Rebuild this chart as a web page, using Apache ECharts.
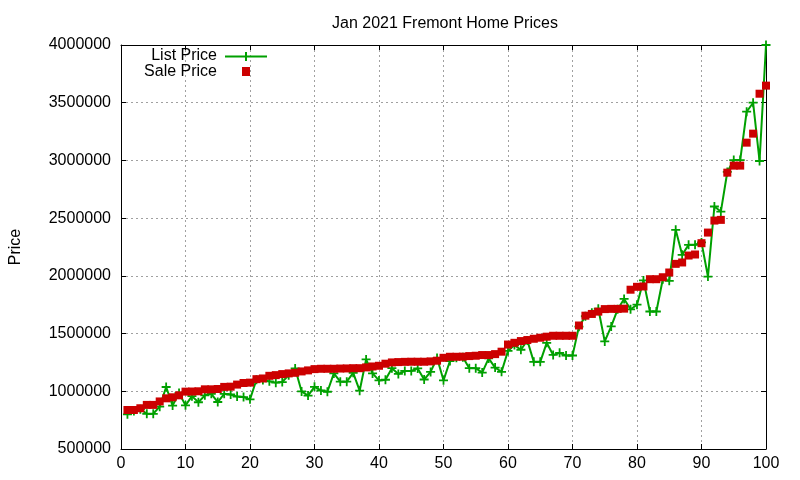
<!DOCTYPE html>
<html>
<head>
<meta charset="utf-8">
<script src="https://cdn.jsdelivr.net/npm/echarts@6/dist/echarts.min.js"></script>
<style>
html,body{margin:0;padding:0;background:#fff;}
#chart{width:800px;height:480px;}
</style>
</head>
<body>
<div id="chart"></div>
<script>
const titleText = 'Jan 2021 Fremont Home Prices';
const yAxisName = 'Price';
const seriesNames = ['List Price', 'Sale Price'];

const listPrice = [
  800000, 830000, 845000, 805000, 805000, 867000, 1037000, 876000, 985000, 878000,
  958000, 905000, 965000, 978000, 907000, 978000, 972000, 954000, 950000, 930000,
  1100000, 1097000, 1086000, 1075000, 1080000, 1140000, 1198000, 999000, 963000, 1039000,
  1007000, 996000, 1155000, 1083000, 1083000, 1160000, 1005000, 1276000, 1155000, 1094000,
  1100000, 1200000, 1150000, 1176000, 1176000, 1198000, 1102000, 1168000, 1288000, 1095000,
  1262000, 1290000, 1295000, 1200000, 1200000, 1162000, 1285000, 1205000, 1169000, 1350000,
  1400000, 1360000, 1440000, 1255000, 1255000, 1420000, 1315000, 1333000, 1310000, 1310000,
  1560000, 1650000, 1680000, 1715000, 1432000, 1562000, 1710000, 1800000, 1710000, 1750000,
  1960000, 1691000, 1691000, 1971000, 1957000, 2399000, 2182000, 2269000, 2269000, 2290000,
  1994000, 2601000, 2557000, 2900000, 3003000, 3003000, 3422000, 3500000, 2995000, 4000000
];

const salePrice = [
  838000, 838000, 853000, 882000, 882000, 912000, 939000, 948000, 965000, 997000,
  998000, 1000000, 1017000, 1017000, 1020000, 1038000, 1040000, 1058000, 1072000, 1075000,
  1105000, 1111000, 1134000, 1140000, 1149000, 1155000, 1160000, 1172000, 1181000, 1192000,
  1195000, 1195000, 1195000, 1197000, 1198000, 1200000, 1200000, 1207000, 1215000, 1221000,
  1239000, 1250000, 1253000, 1255000, 1256000, 1256000, 1256000, 1259000, 1265000, 1290000,
  1299000, 1299000, 1300000, 1305000, 1308000, 1314000, 1314000, 1322000, 1343000, 1405000,
  1420000, 1435000, 1444000, 1455000, 1464000, 1473000, 1481000, 1481000, 1481000, 1481000,
  1570000, 1655000, 1670000, 1690000, 1712000, 1714000, 1714000, 1716000, 1880000, 1905000,
  1908000, 1971000, 1971000, 1988000, 2029000, 2104000, 2116000, 2176000, 2185000, 2283000,
  2375000, 2479000, 2485000, 2894000, 2955000, 2955000, 3154000, 3232000, 3578000, 3648000
];

// home index along x (1..100)
const homeIndex = listPrice.map((_, i) => i + 1);

const xTicks = {min: 0, max: 100, interval: 10};
const yTicks = {min: 500000, max: 4000000, interval: 500000};

const FONT = '"Liberation Sans", Arial, sans-serif';
const GREEN = '#00a000';
const RED = '#cc0000';
const PLUS = 'path://M4,0h2v4h4v2h-4v4h-2v-4h-4v-2h4z';

const chart = echarts.init(document.getElementById('chart'), null, {renderer: 'canvas'});

const axisCommon = {
  axisLine: {show: true, onZero: false, lineStyle: {color: '#000', width: 1}},
  axisTick: {show: true, inside: true, length: 5, lineStyle: {color: '#000', width: 1}},
};

const option = {
  animation: false,
  backgroundColor: '#fff',
  title: {
    text: titleText,
    left: 327, top: 11,
    textStyle: {fontFamily: FONT, fontSize: 16, fontWeight: 'normal', color: '#000'}
  },
  grid: {left: 119, right: 34, top: 45, bottom: 31, containLabel: false},
  xAxis: [
    Object.assign({
      type: 'value', position: 'bottom',
      min: xTicks.min, max: xTicks.max, interval: xTicks.interval,
      axisLabel: {fontFamily: FONT, fontSize: 16, color: '#000', margin: 7},
      splitLine: {show: true, lineStyle: {color: '#a0a0a0', width: 1, type: [2, 3]}}
    }, axisCommon),
    Object.assign({
      type: 'value', position: 'top',
      min: xTicks.min, max: xTicks.max, interval: xTicks.interval,
      axisLabel: {show: false}, splitLine: {show: false}
    }, axisCommon)
  ],
  yAxis: [
    Object.assign({
      type: 'value', position: 'left',
      min: yTicks.min, max: yTicks.max, interval: yTicks.interval,
      name: yAxisName, nameLocation: 'middle', nameRotate: 90, nameGap: 97,
      nameTextStyle: {fontFamily: FONT, fontSize: 16, color: '#000'},
      axisLabel: {fontFamily: FONT, fontSize: 16, color: '#000', margin: 10,
                  formatter: v => String(v)},
      splitLine: {show: true, lineStyle: {color: '#a0a0a0', width: 1, type: [2, 3]}}
    }, axisCommon),
    Object.assign({
      type: 'value', position: 'right',
      min: yTicks.min, max: yTicks.max, interval: yTicks.interval,
      axisLabel: {show: false}, splitLine: {show: false}
    }, axisCommon)
  ],
  graphic: [
    {type: 'text', right: 800 - 217, top: 48,
     style: {text: seriesNames[0], font: '16px ' + FONT, fill: '#000', textAlign: 'right'}, z: 100},
    {type: 'line', shape: {x1: 225, y1: 56.5, x2: 267, y2: 56.5},
     style: {stroke: GREEN, lineWidth: 2}, z: 100},
    {type: 'line', shape: {x1: 246, y1: 52, x2: 246, y2: 61},
     style: {stroke: GREEN, lineWidth: 2}, z: 100},
    {type: 'text', right: 800 - 217, top: 64,
     style: {text: seriesNames[1], font: '16px ' + FONT, fill: '#000', textAlign: 'right'}, z: 100},
    {type: 'rect', shape: {x: 242, y: 67, width: 8, height: 9},
     style: {fill: RED}, z: 100}
  ],
  series: [
    {
      name: seriesNames[0], type: 'line',
      xAxisIndex: 0, yAxisIndex: 0,
      data: homeIndex.map((x, i) => [x, listPrice[i]]),
      showAllSymbol: true,
      symbol: PLUS, symbolSize: 9,
      itemStyle: {color: GREEN},
      lineStyle: {color: GREEN, width: 2},
      z: 2
    },
    {
      name: seriesNames[1], type: 'scatter',
      xAxisIndex: 0, yAxisIndex: 0,
      data: homeIndex.map((x, i) => [x, salePrice[i]]),
      symbol: 'rect', symbolSize: 8,
      itemStyle: {color: RED, opacity: 1},
      z: 3
    }
  ]
};
chart.setOption(option);
</script>
</body>
</html>
